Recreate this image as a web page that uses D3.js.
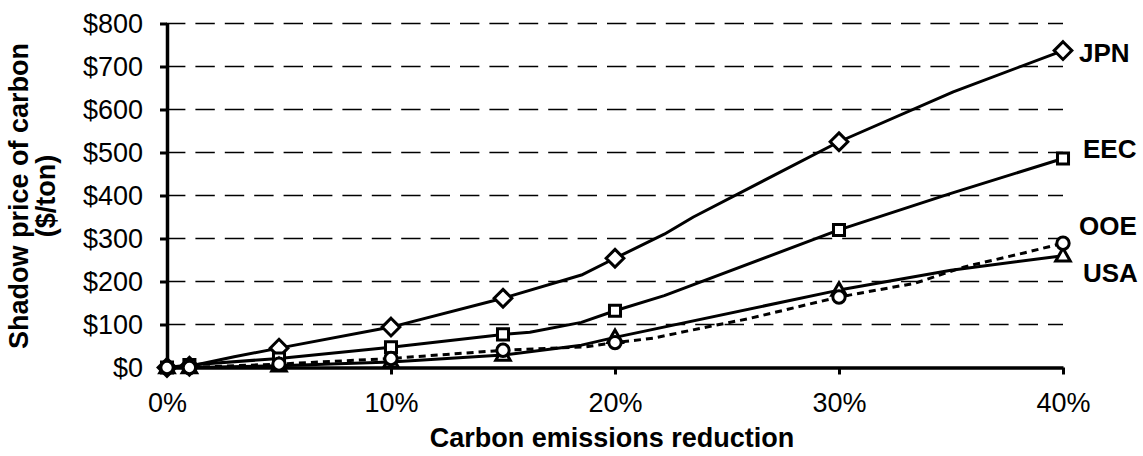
<!DOCTYPE html>
<html>
<head>
<meta charset="utf-8">
<script src="https://cdn.jsdelivr.net/npm/d3@7"></script>
<style>
  body { margin: 0; background: #fff; }
</style>
</head>
<body>
<div id="wrapper"></div>
<script>
// percent reduction where markers are drawn
var markerX = [0, 1, 5, 10, 15, 20, 30, 40]
var xTicks = [0, 10, 20, 30, 40]
var yTicks = [0, 100, 200, 300, 400, 500, 600, 700, 800]

// line vertices [reduction %, $/ton]
var jpnLine = [[0, 0], [1, 3], [3, 25], [5, 45], [10, 94], [15, 161], [18.5, 215], [20, 254], [22.2, 310], [23.5, 350], [30, 525], [35.1, 641], [40, 737]]
var eecLine = [[0, 0], [1, 6], [5, 21], [10, 47], [15, 77], [16.2, 82], [18.5, 105], [20, 132], [22.2, 167], [30, 320], [35, 405], [40, 486]]
var usaLine = [[0, 0], [1, 0], [5, 4], [10, 13], [15, 29], [18.5, 52], [20, 70], [30, 180], [35, 226], [40, 260]]
var ooeLine = [[0, 0], [1, 0], [5, 8], [10, 21], [15, 40], [18.7, 48], [20, 58], [21.7, 68], [23.8, 91], [26, 114], [30, 164], [33.4, 196], [35.6, 234], [38.3, 267], [40, 289]]

var names = ["JPN", "EEC", "USA", "OOE"]
var lines = [jpnLine, eecLine, usaLine, ooeLine]

width = 1143
height = 456

marginTop = 23.5
marginLeft = 167
plotRight = 1063
plotBottom = 367.5

var font = "'Liberation Sans', Arial, sans-serif"

const svg = d3.select("#wrapper").append("svg")
    .attr("width", width)
    .attr("height", height)
    .style("font-family", font)

var x = d3.scaleLinear().domain([0, 40]).range([marginLeft, plotRight])
var y = d3.scaleLinear().domain([0, 800]).range([plotBottom, marginTop])

// dashed gridlines
svg.append("g")
    .selectAll("line")
    .data(yTicks.slice(1))
    .join("line")
    .attr("x1", marginLeft - 1)
    .attr("x2", plotRight)
    .attr("y1", d => y(d))
    .attr("y2", d => y(d))
    .attr("stroke", "#000")
    .attr("stroke-width", 1.3)
    .attr("stroke-dasharray", "19.4,10")

// axes
var yAxis = g => g
    .attr("transform", `translate(${marginLeft},0)`)
    .call(d3.axisLeft(y).tickValues(yTicks).tickFormat(d => "$" + d).tickSize(7).tickSizeOuter(0).tickPadding(17))
    .call(g => g.select(".domain").attr("stroke-width", 3.5))
    .call(g => g.selectAll(".tick line").attr("stroke-width", 3))
    .call(g => g.selectAll(".tick text").attr("font-size", 27).attr("font-family", font).attr("fill", "#000"))

var xAxis = g => g
    .attr("transform", `translate(0,${plotBottom})`)
    .call(d3.axisBottom(x).tickValues(xTicks).tickFormat(d => d + "%").tickSize(7).tickSizeOuter(0).tickPadding(18))
    .call(g => g.select(".domain").attr("stroke-width", 3.5))
    .call(g => g.selectAll(".tick line").attr("stroke-width", 3))
    .call(g => g.selectAll(".tick text").attr("font-size", 27).attr("font-family", font).attr("fill", "#000"))

svg.append("g").call(xAxis)
svg.append("g").call(yAxis)

// lines
var line = d3.line().x(d => x(d[0])).y(d => y(d[1]))

svg.append("g")
    .selectAll("path")
    .data(lines)
    .join("path")
    .attr("d", line)
    .attr("fill", "none")
    .attr("stroke", "#000")
    .attr("stroke-width", 3)
    .attr("stroke-dasharray", (d, i) => names[i] == "OOE" ? "7,5" : null)
    .attr("stroke-linejoin", "round")

// markers, only at the marked reductions
var symbols = [d3.symbolDiamond2, d3.symbolSquare2, d3.symbolTriangle2, d3.symbolCircle]
var symbolSize = [200, 155, 150, 120]

lines.forEach((pts, i) => {
    var marked = pts.filter(p => markerX.includes(p[0]))
    svg.append("g")
        .selectAll("path")
        .data(marked)
        .join("path")
        .attr("d", d3.symbol().type(symbols[i]).size(symbolSize[i]))
        .attr("transform", d => `translate(${x(d[0])},${y(d[1]) + (i == 2 ? 1 : 0)})`)
        .attr("fill", "#fff")
        .attr("stroke", "#000")
        .attr("stroke-width", 3)
})

// series labels beside the last point
var labelDy = { JPN: 11, EEC: -1, USA: 26, OOE: -8 }
svg.append("g")
    .selectAll("text")
    .data(lines)
    .join("text")
    .attr("x", (d, i) => x(40) + (names[i] == "JPN" || names[i] == "OOE" ? 16 : 20))
    .attr("y", (d, i) => y(d[d.length - 1][1]) + labelDy[names[i]])
    .attr("font-size", 26)
    .attr("font-weight", "bold")
    .text((d, i) => names[i])

// axis titles
svg.append("text")
    .attr("x", 612)
    .attr("y", 447)
    .attr("text-anchor", "middle")
    .attr("font-size", 27)
    .attr("font-weight", "bold")
    .text("Carbon emissions reduction")

var yTitle = svg.append("text")
    .attr("transform", "translate(28,196) rotate(-90)")
    .attr("text-anchor", "middle")
    .attr("font-size", 27)
    .attr("font-weight", "bold")
yTitle.append("tspan").attr("x", 0).attr("y", 0).text("Shadow price of carbon")
yTitle.append("tspan").attr("x", 0).attr("y", 27).text("($/ton)")
</script>
</body>
</html>
